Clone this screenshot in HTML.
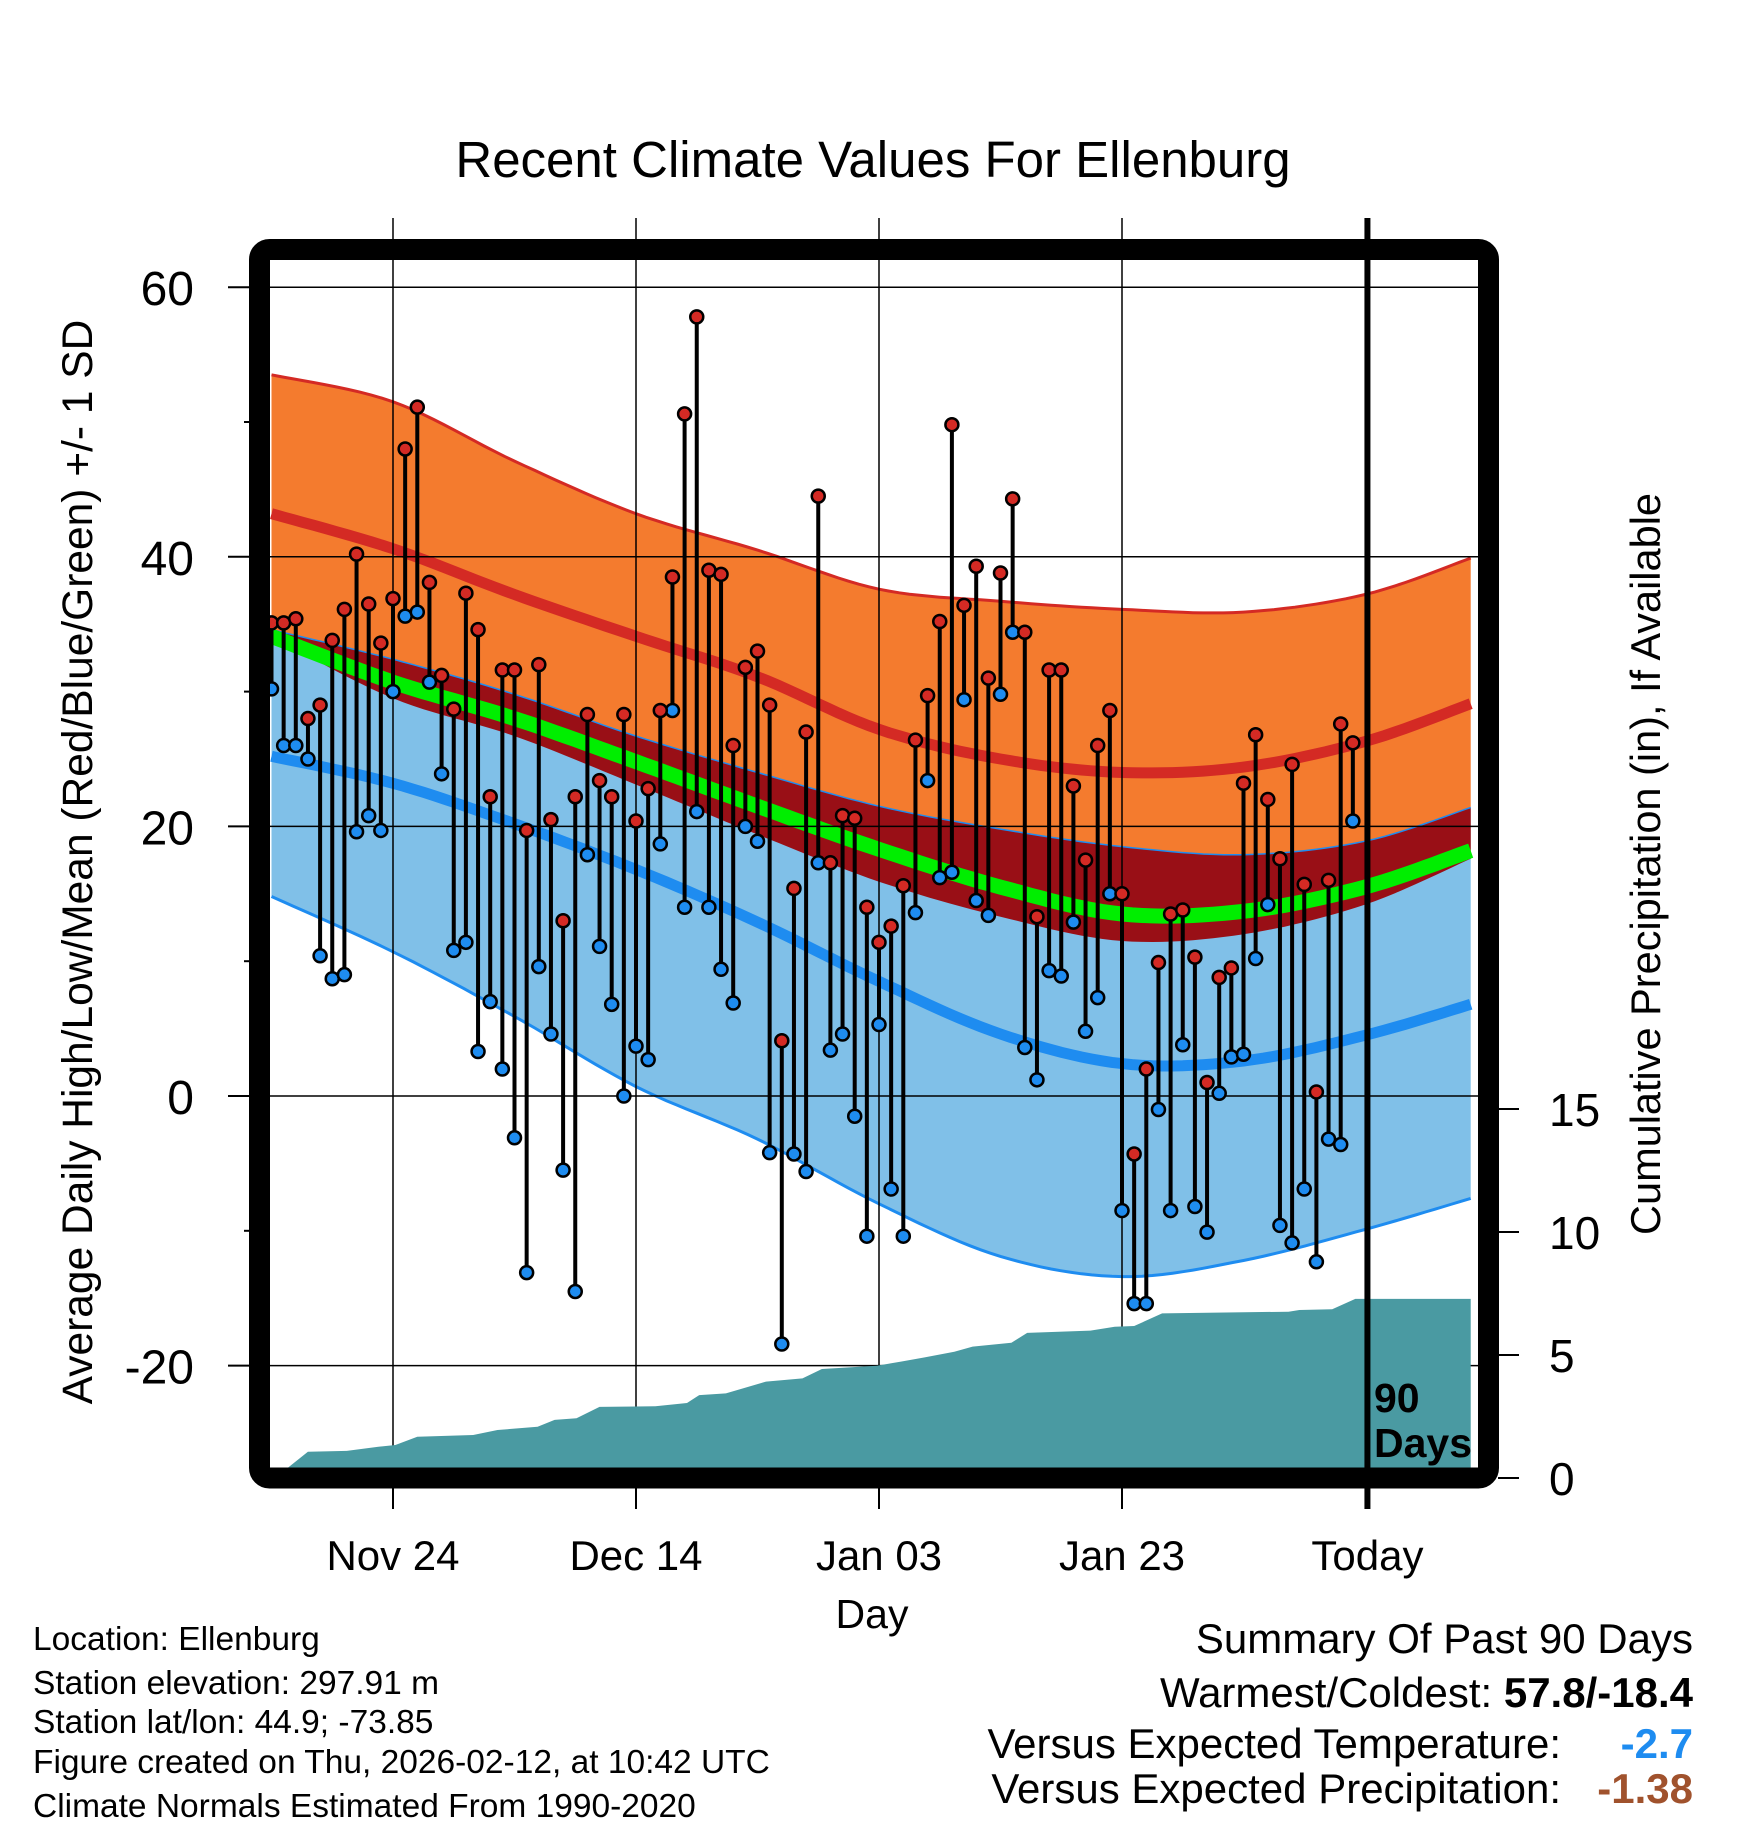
<!DOCTYPE html>
<html><head><meta charset="utf-8"><style>
html,body{margin:0;padding:0;background:#fff}
svg{display:block;font-family:"Liberation Sans",Arial,sans-serif}
</style></head><body>
<svg id="chart" width="1748" height="1828" viewBox="0 0 1748 1828" xmlns="http://www.w3.org/2000/svg">
<defs><clipPath id="plotclip"><rect x="270" y="260" width="1208" height="1208"/></clipPath></defs>
<text x="873" y="177" font-size="51" text-anchor="middle">Recent Climate Values For Ellenburg</text>
<g id="bands" clip-path="url(#plotclip)"></g>
<g id="grid"></g>
<g id="precip" clip-path="url(#plotclip)"></g>
<g id="obs"></g>
<g id="frame"></g>
<g id="axes"></g>
<text transform="translate(92,862) rotate(-90)" font-size="42.5" text-anchor="middle">Average Daily High/Low/Mean (Red/Blue/Green) +/- 1 SD</text>
<text transform="translate(1660,864) rotate(-90)" font-size="41.5" text-anchor="middle">Cumulative Precipitation (in), If Available</text>
<text x="872" y="1628" font-size="41" text-anchor="middle">Day</text>
<g font-size="33.5">
<text x="33" y="1650">Location: Ellenburg</text>
<text x="33" y="1694">Station elevation: 297.91 m</text>
<text x="33" y="1733">Station lat/lon: 44.9; -73.85</text>
<text x="33" y="1773">Figure created on Thu, 2026-02-12, at 10:42 UTC</text>
<text x="33" y="1817">Climate Normals Estimated From 1990-2020</text>
</g>
<g font-size="42">
<text x="1693" y="1653" text-anchor="end">Summary Of Past 90 Days</text>
<text x="1693" y="1707" text-anchor="end">Warmest/Coldest: <tspan font-weight="bold">57.8/-18.4</tspan></text>
<text x="1561" y="1758" text-anchor="end">Versus Expected Temperature:</text>
<text x="1693" y="1758" text-anchor="end" font-weight="bold" fill="#1e8cf0">-2.7</text>
<text x="1561" y="1803" text-anchor="end">Versus Expected Precipitation:</text>
<text x="1693" y="1803" text-anchor="end" font-weight="bold" fill="#a0522d">-1.38</text>
</g>
</svg>
<script>
// ---- data ----
const highs=[35.1,35.1,35.4,28,29,33.8,36.1,40.2,36.5,33.6,36.9,48,51.1,38.1,31.2,28.7,37.3,34.6,22.2,31.6,31.6,19.7,32,20.5,13,22.2,28.3,23.4,22.2,28.3,20.4,22.8,28.6,38.5,50.6,57.8,39,38.7,26,31.8,33,29,4.1,15.4,27,44.5,17.3,20.8,20.6,14,11.4,12.6,15.6,26.4,29.7,35.2,49.8,36.4,39.3,31,38.8,44.3,34.4,13.3,31.6,31.6,23,17.5,26,28.6,15,-4.3,2,9.9,13.5,13.8,10.3,1,8.8,9.5,23.2,26.8,22,17.6,24.6,15.7,0.3,16,27.6,26.2];
const lows=[30.2,26,26,25,10.4,8.7,9,19.6,20.8,19.7,30,35.6,35.9,30.7,23.9,10.8,11.4,3.3,7,2,-3.1,-13.1,9.6,4.6,-5.5,-14.5,17.9,11.1,6.8,0,3.7,2.7,18.7,28.6,14,21.1,14,9.4,6.9,20,18.9,-4.2,-18.4,-4.3,-5.6,17.3,3.4,4.6,-1.5,-10.4,5.3,-6.9,-10.4,13.6,23.4,16.2,16.6,29.4,14.5,13.4,29.8,34.4,3.6,1.2,9.3,8.9,12.9,4.8,7.3,15,-8.5,-15.4,-15.4,-1,-8.5,3.8,-8.2,-10.1,0.2,2.9,3.1,10.2,14.2,-9.6,-10.9,-6.9,-12.3,-3.2,-3.6,20.4];
const normDays=[0,10,20,30,40,50,60,70,80,90,98.7];
const highPlusSD=[53.5,51.5,47.1,43.2,40.5,37.6,36.7,36.1,35.9,37.2,39.9];
const highMean=[43.2,40.6,37.2,34.1,31.1,27.2,25,24,24.4,26.3,29.1];
const highMinusSD=[34.1,29.5,26.7,23.1,19.4,15.9,13.3,11.5,12,14.2,17.6];
const meanTemp=[34.1,30.7,28,24.8,21.5,18.3,15.5,13.5,13.7,15.5,18.2];
const lowPlusSD=[34.6,32.4,29.8,26.7,24,21.5,19.8,18.5,17.9,18.9,21.4];
const lowMean=[25.2,23.2,20.2,16.8,12.9,8.5,4.6,2.4,2.6,4.5,6.8];
const lowMinusSD=[14.8,10.7,5.9,0.7,-3.2,-8,-11.9,-13.4,-12.2,-9.9,-7.6];
const precipDays=[0,1.3,3,6.2,8.8,10.2,12,16.6,18.6,21.9,23.3,25.1,27,31.6,34.2,35.2,37.4,40.7,43.7,45.3,49.8,51.8,53.7,56.2,57.7,60.9,62.2,67.4,69.4,71,73.3,83.7,84.6,87.3,89.2,98.7];
const precipCum=[0,0.4,1.07,1.1,1.27,1.34,1.68,1.75,1.95,2.08,2.36,2.43,2.89,2.92,3.05,3.37,3.44,3.92,4.05,4.43,4.56,4.73,4.9,5.13,5.34,5.5,5.9,5.99,6.15,6.18,6.69,6.76,6.83,6.86,7.28,7.28];
const yTicks=[60,40,20,0,-20];
const yMinor=[50,30,10,-10];
const pTicks=[0,5,10,15];
const xTickDays=[10,30,50,70,90.2];
const xTickLabels=['Nov 24','Dec 14','Jan 03','Jan 23','Today'];

// ---- scales ----
const X=d=>271.5+d*12.15;
const Y=v=>1096-v*13.48;
const P=v=>1478-v*24.6;
const NS='http://www.w3.org/2000/svg';
function mk(tag,parent,attrs){const e=document.createElementNS(NS,tag);for(const k in attrs)e.setAttribute(k,attrs[k]);parent.appendChild(e);return e;}
function smoothPts(days,vals){const pts=[];const n=days.length;
 for(let i=0;i<n-1;i++){const p0=i>0?i-1:i,p3=i+2<n?i+2:i+1;
  for(let s=0;s<12;s++){const t=s/12,t2=t*t,t3=t2*t;
   const f=(a,b,c,d)=>0.5*(2*b+(-a+c)*t+(2*a-5*b+4*c-d)*t2+(-a+3*b-3*c+d)*t3);
   pts.push([X(f(days[p0],days[i],days[i+1],days[p3])),Y(f(vals[p0],vals[i],vals[i+1],vals[p3]))]);}}
 pts.push([X(days[n-1]),Y(vals[n-1])]);return pts;}
const toD=pts=>pts.map((p,i)=>(i?'L':'M')+p[0].toFixed(1)+','+p[1].toFixed(1)).join('');
function band(up,lo){const a=smoothPts(normDays,up),b=smoothPts(normDays,lo).reverse();return toD(a)+toD(b).replace('M','L')+'Z';}

const bands=document.getElementById('bands');
let e;
e=mk('path',bands,{d:band(highPlusSD,highMinusSD),fill:'#f47b2e'});


e=mk('path',bands,{d:band(lowPlusSD,lowMinusSD),fill:'#80c0e8'});


e=mk('path',bands,{d:band(lowPlusSD,highMinusSD),fill:'#990f16'});


e=mk('path',bands,{d:toD(smoothPts(normDays,highPlusSD)),fill:'none',stroke:'#d42a24','stroke-width':3});


e=mk('path',bands,{d:toD(smoothPts(normDays,lowMinusSD)),fill:'none',stroke:'#1e8cf0','stroke-width':3});


e=mk('path',bands,{d:toD(smoothPts(normDays,lowPlusSD)),fill:'none',stroke:'#1e8cf0','stroke-width':1.5});


e=mk('path',bands,{d:toD(smoothPts(normDays,meanTemp)),fill:'none',stroke:'#00ee00','stroke-width':15});


e=mk('path',bands,{d:toD(smoothPts(normDays,highMean)),fill:'none',stroke:'#d42a24','stroke-width':11});


e=mk('path',bands,{d:toD(smoothPts(normDays,lowMean)),fill:'none',stroke:'#1e8cf0','stroke-width':11});



// grid
const grid=document.getElementById('grid');
yTicks.forEach(v=>{e=mk('line',grid,{x1:270,x2:1478,y1:Y(v),y2:Y(v),stroke:'#000','stroke-width':1.5});

});
xTickDays.slice(0,4).forEach(d=>{e=mk('line',grid,{x1:X(d),x2:X(d),y1:218,y2:1468,stroke:'#000','stroke-width':1.5});

});

// precip
const pg=document.getElementById('precip');
const ppts=precipDays.map((d,i)=>[X(d),P(precipCum[i])]);
e=mk('path',pg,{d:toD(ppts)+'L'+X(precipDays[precipDays.length-1])+',1490L'+X(0)+',1490Z',fill:'#4a9aa2'});



// observations
const og=document.getElementById('obs');
highs.forEach((h,i)=>{e=mk('line',og,{x1:X(i),x2:X(i),y1:Y(h),y2:Y(lows[i]),stroke:'#000','stroke-width':4});

});
lows.forEach((l,i)=>{e=mk('circle',og,{cx:X(i),cy:Y(l),r:6.5,fill:'#1e8cf0',stroke:'#000','stroke-width':2.5});

});
highs.forEach((h,i)=>{e=mk('circle',og,{cx:X(i),cy:Y(h),r:6.5,fill:'#d42a24',stroke:'#000','stroke-width':2.5});

});

// frame & today line
const fg=document.getElementById('frame');
e=mk('line',fg,{x1:X(90.2),x2:X(90.2),y1:218,y2:1509,stroke:'#000','stroke-width':6});


e=mk('rect',fg,{x:259.5,y:249.5,width:1229,height:1228.5,rx:10,fill:'none',stroke:'#000','stroke-width':21});


e=mk('text',fg,{x:1374,y:1412,'font-size':41,'font-weight':'bold'});e.textContent='90';


e=mk('text',fg,{x:1374,y:1457,'font-size':41,'font-weight':'bold'});e.textContent='Days';



// axes
const ag=document.getElementById('axes');
yTicks.forEach(v=>{mk('line',ag,{x1:228,x2:250,y1:Y(v),y2:Y(v),stroke:'#000','stroke-width':2});
e=mk('text',ag,{x:194,y:Y(v)+18,'font-size':48,'text-anchor':'end'});e.textContent=v;

});
yMinor.forEach(v=>{mk('line',ag,{x1:244,x2:250,y1:Y(v),y2:Y(v),stroke:'#000','stroke-width':2});});
pTicks.forEach(v=>{mk('line',ag,{x1:1498,x2:1519,y1:P(v),y2:P(v),stroke:'#000','stroke-width':2});
e=mk('text',ag,{x:1549,y:P(v)+17,'font-size':46});e.textContent=v;

});
xTickDays.forEach((d,i)=>{mk('line',ag,{x1:X(d),x2:X(d),y1:1488,y2:1509,stroke:'#000','stroke-width':2});
e=mk('text',ag,{x:X(d),y:1570,'font-size':42,'text-anchor':'middle'});e.textContent=xTickLabels[i];

});
</script>
</body></html>
